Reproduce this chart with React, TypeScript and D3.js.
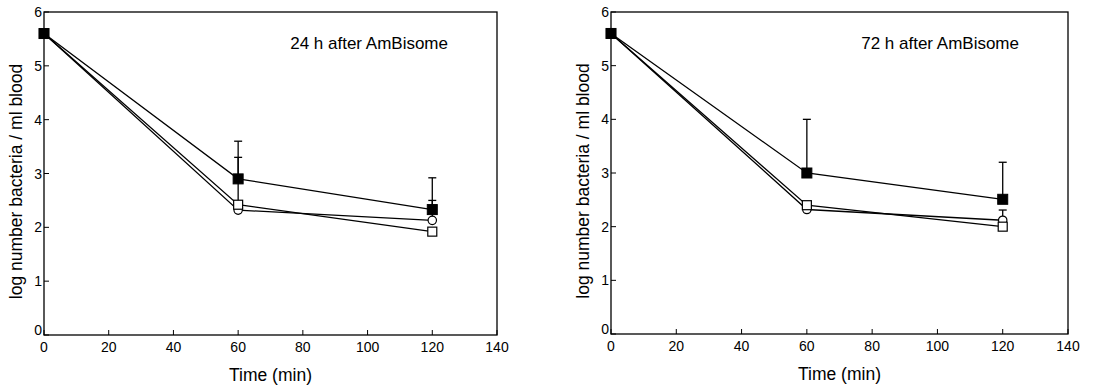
import React from 'react';
import * as d3 from 'd3';

// Sampling times (min)
const times = [0, 60, 120];
const xTicks = [0, 20, 40, 60, 80, 100, 120, 140];
const yTicks = [0, 1, 2, 3, 4, 5, 6];

// 24 h after AmBisome
const filled24 = [5.6, 2.9, 2.33];
const openSquare24 = [5.6, 2.42, 1.92];
const openCircle24 = [5.6, 2.32, 2.13];
const filledErr24 = [null, 3.6, 2.92];
const circleErr24 = [null, 3.3, 2.5];

// 72 h after AmBisome
const filled72 = [5.6, 3.0, 2.51];
const openSquare72 = [5.6, 2.4, 2.0];
const openCircle72 = [5.6, 2.32, 2.12];
const filledErr72 = [null, 4.0, 3.2];
const circleErr72 = [null, null, 2.31];

const font = 'Liberation Sans, Arial, sans-serif';

type PanelProps = {
  left: number;
  right: number;
  top: number;
  bottom: number;
  label: string;
  filled: number[];
  openSquare: number[];
  openCircle: number[];
  filledErr: (number | null)[];
  circleErr: (number | null)[];
};

const Panel = ({ left, right, top, bottom, label, filled, openSquare, openCircle, filledErr, circleErr }: PanelProps) => {
  const x = d3.scaleLinear().domain([0, 140]).range([left, right]);
  const y = d3.scaleLinear().domain([0, 6]).range([bottom, top]);
  const line = d3.line<number>().x((_, i) => x(times[i])).y(d => y(d));

  const errBars = (vals: number[], tops: (number | null)[], key: string) =>
    tops.map((t, i) =>
      t == null ? null : (
        <g key={key + i}>
          <line x1={x(times[i])} x2={x(times[i])} y1={y(vals[i])} y2={y(t)} stroke="#000" strokeWidth={1.3} />
          <line x1={x(times[i]) - 4} x2={x(times[i]) + 4} y1={y(t)} y2={y(t)} stroke="#000" strokeWidth={1.3} />
        </g>
      )
    );

  return (
    <g>
      {/* frame */}
      <rect x={left} y={top} width={right - left} height={bottom - top} fill="none" stroke="#000" strokeWidth={1.3} />
      {/* ticks */}
      {xTicks.map(t => (
        <g key={'x' + t}>
          <line x1={x(t)} x2={x(t)} y1={bottom} y2={bottom - 5} stroke="#000" />
          <text x={x(t)} y={bottom + 17} textAnchor="middle" fontSize={14} fontFamily={font}>{t}</text>
        </g>
      ))}
      {yTicks.map(t => (
        <g key={'y' + t}>
          <line x1={left} x2={left + 5} y1={y(t)} y2={y(t)} stroke="#000" />
          <text x={left - 2} y={y(t) + (t === 0 ? 0 : 5)} textAnchor="end" fontSize={14} fontFamily={font}>{t}</text>
        </g>
      ))}
      <text x={(left + right) / 2} y={bottom + 46} textAnchor="middle" fontSize={17.5} fontFamily={font}>Time (min)</text>
      <text
        transform={`translate(${left - 22},${(top + bottom) / 2 + 8}) rotate(-90)`}
        textAnchor="middle"
        fontSize={17.5}
        fontFamily={font}
      >
        log number bacteria / ml blood
      </text>
      <text x={right - 49} y={top + 37} textAnchor="end" fontSize={17} fontFamily={font}>{label}</text>

      {/* error bars */}
      {errBars(filled, filledErr, 'fe')}
      {errBars(openCircle, circleErr, 'ce')}

      {/* lines */}
      <path d={line(openCircle) || ''} fill="none" stroke="#000" strokeWidth={1.3} />
      <path d={line(openSquare) || ''} fill="none" stroke="#000" strokeWidth={1.3} />
      <path d={line(filled) || ''} fill="none" stroke="#000" strokeWidth={1.3} />

      {/* markers */}
      {openCircle.map((v, i) => (
        <circle key={'c' + i} cx={x(times[i])} cy={y(v)} r={4.2} fill="#fff" stroke="#000" strokeWidth={1.2} />
      ))}
      {openSquare.map((v, i) => (
        <rect key={'s' + i} x={x(times[i]) - 4.5} y={y(v) - 4.5} width={9} height={9} fill="#fff" stroke="#000" strokeWidth={1.2} />
      ))}
      {filled.map((v, i) => (
        <rect key={'f' + i} x={x(times[i]) - 5} y={y(v) - 5} width={10} height={10} fill="#000" stroke="#000" />
      ))}
    </g>
  );
};

const App = () => (
  <svg width={1114} height={388} style={{ position: 'absolute', left: 0, top: 0, display: 'block' }}>
    <rect width={1114} height={388} fill="#fff" />
    <Panel
      left={44}
      right={497}
      top={12}
      bottom={335}
      label="24 h after AmBisome"
      filled={filled24}
      openSquare={openSquare24}
      openCircle={openCircle24}
      filledErr={filledErr24}
      circleErr={circleErr24}
    />
    <Panel
      left={611}
      right={1068}
      top={12}
      bottom={334}
      label="72 h after AmBisome"
      filled={filled72}
      openSquare={openSquare72}
      openCircle={openCircle72}
      filledErr={filledErr72}
      circleErr={circleErr72}
    />
  </svg>
);

export default App;
